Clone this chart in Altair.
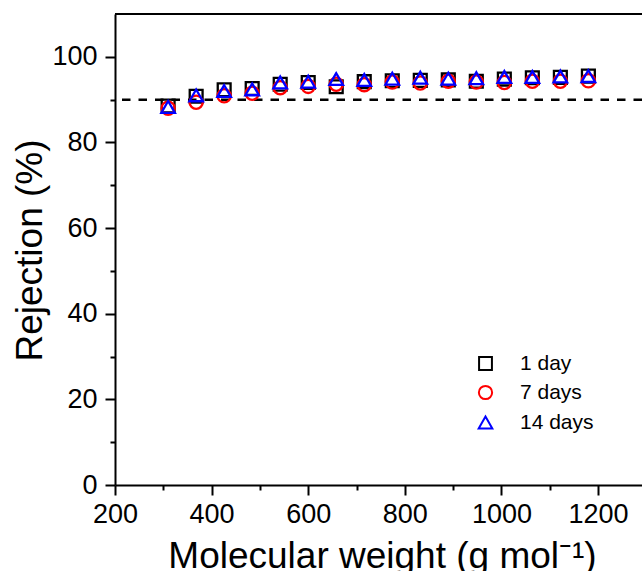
import altair as alt
import pandas as pd

# ---- data ----
mw = [310, 368, 426, 484, 542, 600, 658, 716, 774, 832, 890, 948, 1006, 1064, 1122, 1180]
rej_1day = [88.5, 90.8, 92.3, 92.6, 93.6, 94.0, 93.0, 94.2, 94.4, 94.5, 94.6, 94.3, 94.8, 95.1, 95.2, 95.5]
rej_7days = [88.0, 89.4, 90.9, 91.5, 92.8, 93.1, 93.6, 93.5, 94.1, 93.9, 94.3, 94.1, 94.0, 94.3, 94.3, 94.4]
rej_14days = [88.3, 91.0, 92.0, 92.4, 94.0, 94.2, 94.8, 94.6, 94.9, 95.1, 94.9, 95.0, 95.3, 95.3, 95.4, 95.5]
series = ["1 day", "7 days", "14 days"]
shapes = ["square", "circle", "triangle-up"]
colors = ["#000000", "#ff0000", "#0000ff"]
sizes = [165, 185, 370]
x_major = [200, 400, 600, 800, 1000, 1200]
x_minor = [300, 500, 700, 900, 1100]
y_major = [0, 20, 40, 60, 80, 100]
y_minor = [10, 30, 50, 70, 90]
threshold = [90]
y_top = [110]

rows = []
for name, vals in zip(series, [rej_1day, rej_7days, rej_14days]):
    for m, v in zip(mw, vals):
        rows.append({"mw": m, "rej": v, "series": name})
df = pd.DataFrame(rows)

FONT = "Liberation Sans"
x_scale = alt.Scale(domain=[200, 1291], nice=False, zero=False)
y_scale = alt.Scale(domain=[0, 110], nice=False, zero=True)

x_axis = alt.Axis(values=x_major, orient="bottom", grid=False, format="d",
                  tickSize=10, tickWidth=2, tickColor="black",
                  domainWidth=2, domainColor="black",
                  labelFont=FONT, labelFontSize=27, labelColor="black",
                  labelPadding=6, labelFlush=False, labelOverlap=False,
                  title="Molecular weight (g mol\u207b\u00b9)", titleFont=FONT,
                  titleFontSize=37, titleFontWeight="normal", titleColor="black",
                  titleX=267, titleY=82, titleBaseline="alphabetic", titleAlign="center")
y_axis = alt.Axis(values=y_major, orient="left", grid=False, format="d",
                  tickSize=10, tickWidth=2, tickColor="black",
                  domainWidth=2, domainColor="black",
                  labelFont=FONT, labelFontSize=27, labelColor="black",
                  labelPadding=8, labelFlush=False, labelOverlap=False,
                  title="Rejection (%)", titleFont=FONT, titleFontSize=37,
                  titleFontWeight="normal", titleColor="black", titleAngle=270,
                  titleX=-74, titleY=236, titleBaseline="alphabetic", titleAlign="center")
x_minor_axis = alt.Axis(values=x_minor, orient="bottom", grid=False, labels=False,
                        domain=False, tickSize=5, tickWidth=2, tickColor="black", title=None)
y_minor_axis = alt.Axis(values=y_minor, orient="left", grid=False, labels=False,
                        domain=False, tickSize=5, tickWidth=2, tickColor="black", title=None)

legend = alt.Legend(title=None, orient="none", legendX=360, legendY=339,
                    labelFont=FONT, labelFontSize=21, labelColor="black",
                    symbolStrokeWidth=2, rowPadding=7, labelOffset=24, padding=0)

dash = alt.Chart(pd.DataFrame({"y": threshold})).mark_rule(
    strokeDash=[8.5, 8], strokeWidth=2.5, color="black"
).encode(y=alt.Y("y:Q", scale=y_scale, axis=None))

frame = alt.Chart(pd.DataFrame({"y": y_top})).mark_rule(
    strokeWidth=2, color="black"
).encode(y=alt.Y("y:Q", scale=y_scale, axis=None))

points = alt.Chart(df).mark_point(filled=False, strokeWidth=2.3, opacity=1).encode(
    x=alt.X("mw:Q", scale=x_scale, axis=x_axis),
    y=alt.Y("rej:Q", scale=y_scale, axis=y_axis),
    shape=alt.Shape("series:N", scale=alt.Scale(domain=series, range=shapes), legend=legend),
    color=alt.Color("series:N", scale=alt.Scale(domain=series, range=colors), legend=legend),
    size=alt.Size("series:N", scale=alt.Scale(domain=series, range=sizes), legend=legend),
)

minor = alt.Chart(df).mark_point(opacity=0).encode(
    x=alt.X("mw:Q", scale=x_scale, axis=x_minor_axis),
    y=alt.Y("rej:Q", scale=y_scale, axis=y_minor_axis),
)

chart = alt.layer(dash, frame, points, minor).resolve_axis(
    x="independent", y="independent"
).properties(
    width=527, height=471,
    autosize=alt.AutoSizeParams(type="none"),
    padding={"left": 115, "top": 14, "right": 0, "bottom": 86},
    background="white",
).configure_view(stroke="transparent")

chart.save("out.html", embed_options={"renderer": "svg", "actions": False})
